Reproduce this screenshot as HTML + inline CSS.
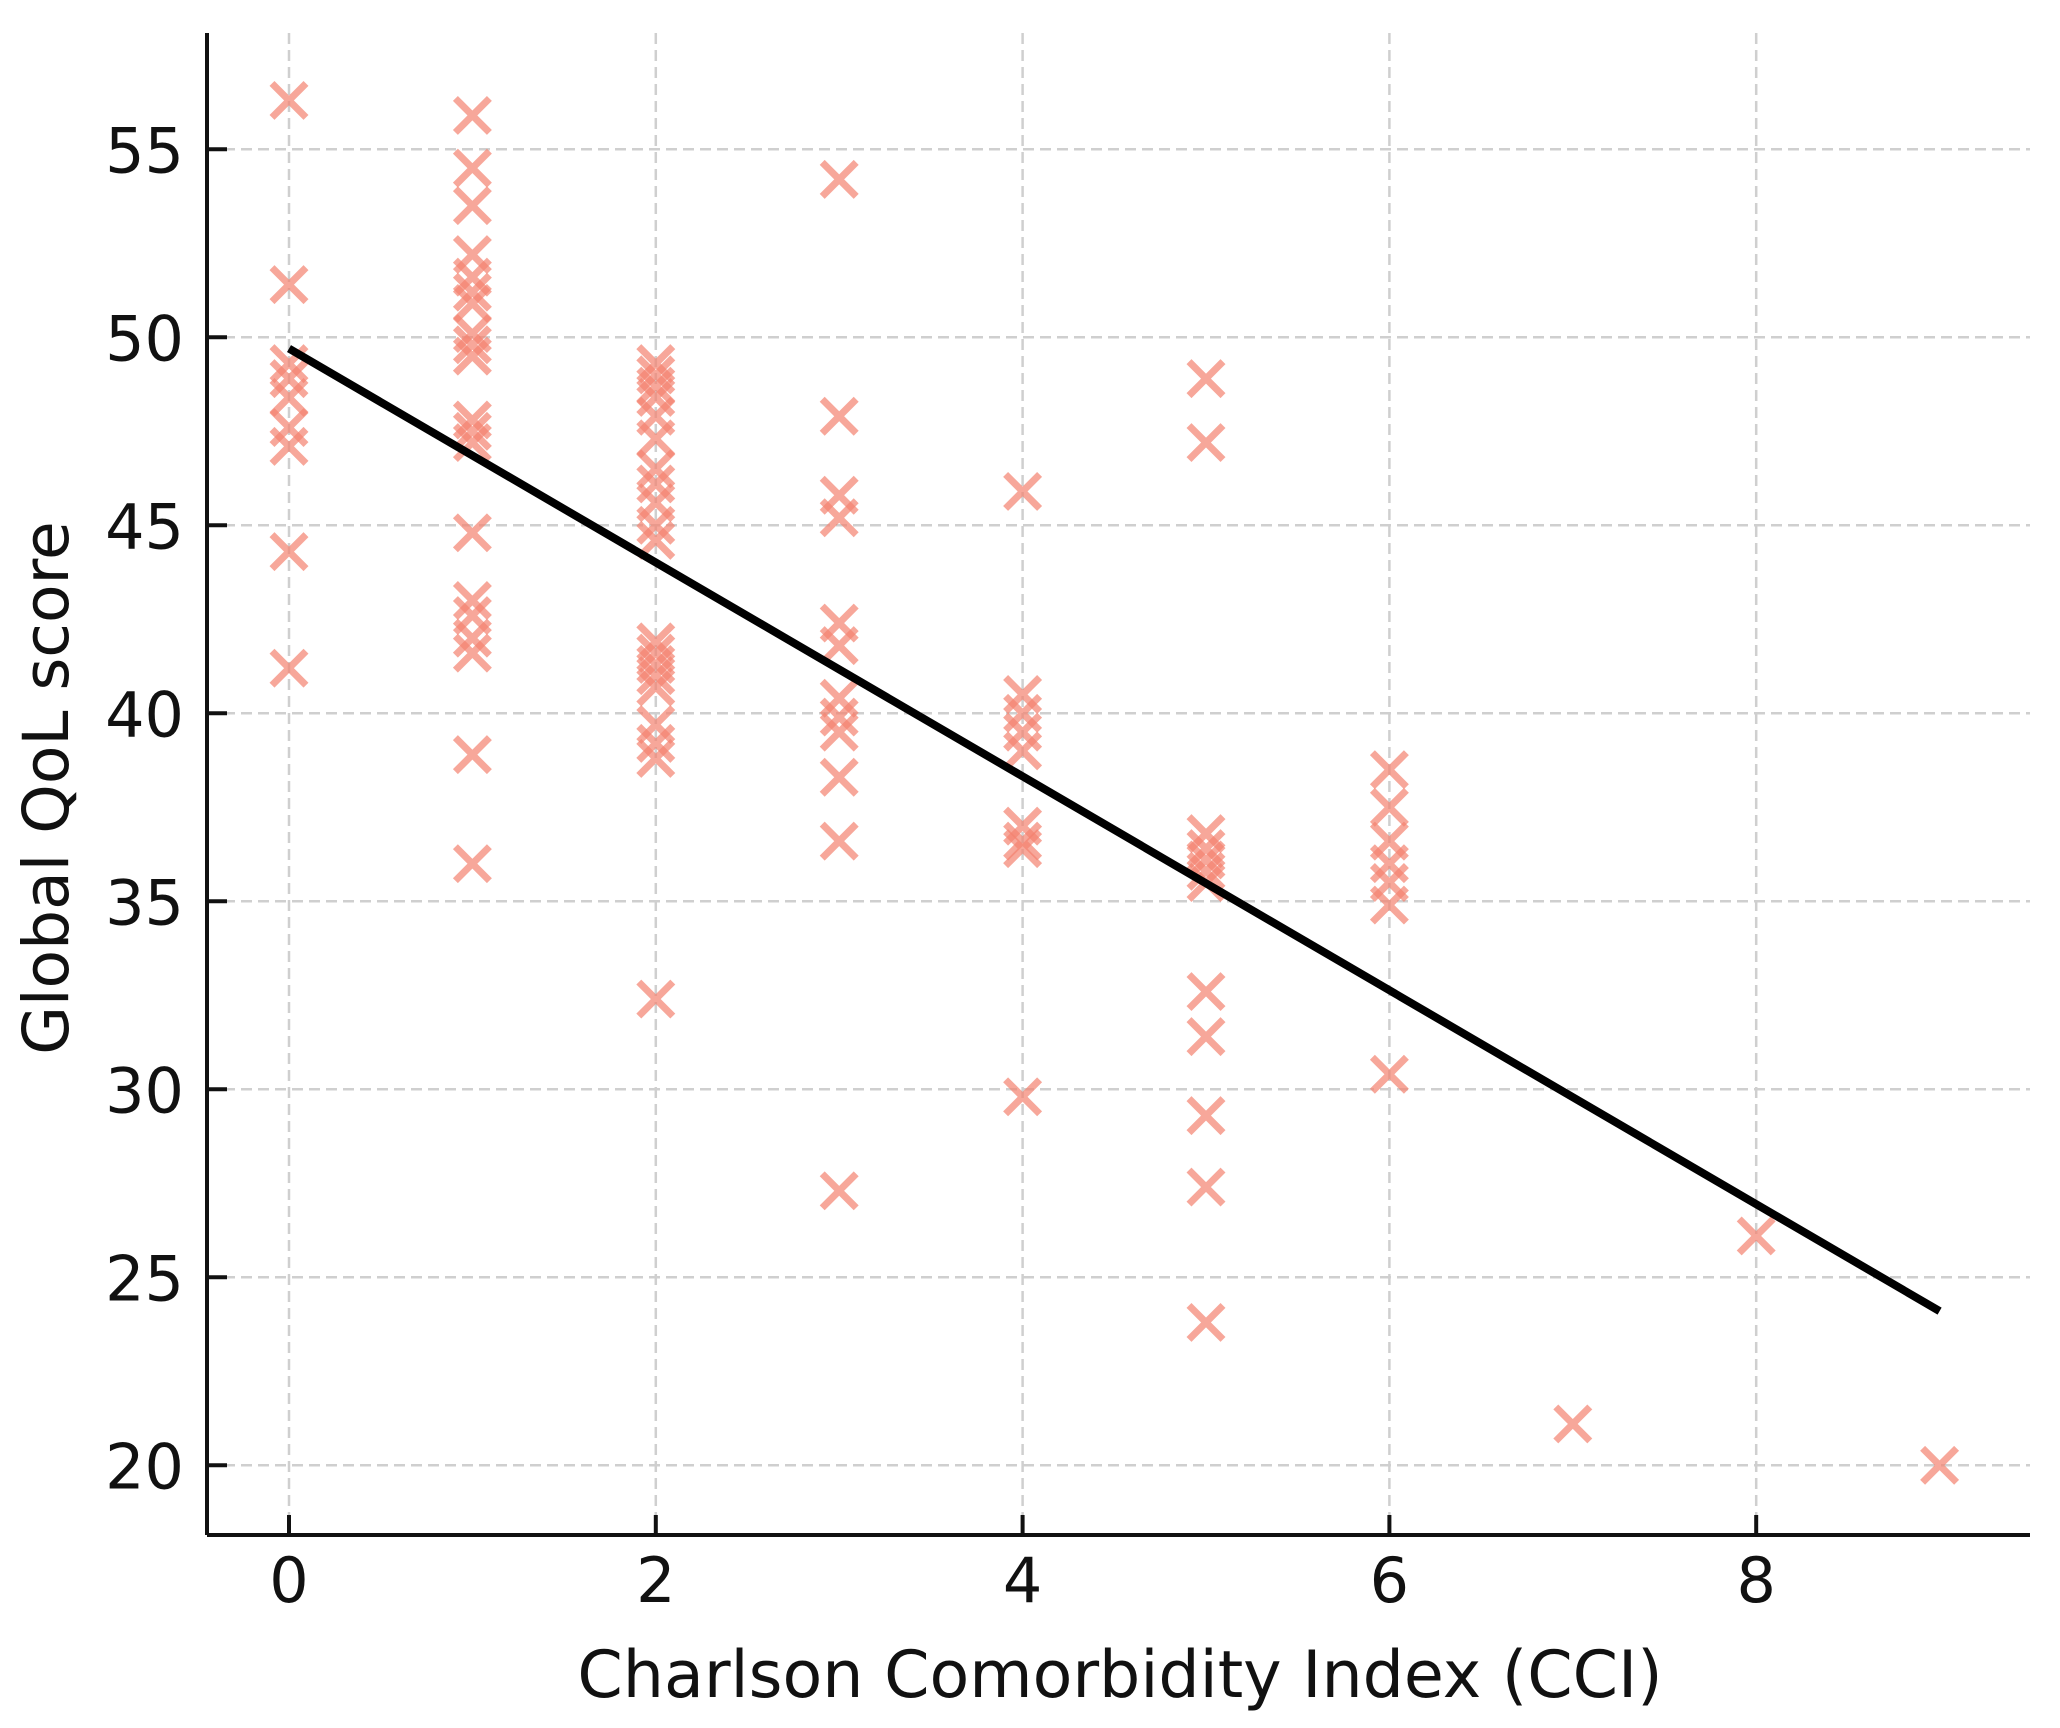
<!DOCTYPE html>
<html><head><meta charset="utf-8"><style>
html,body{margin:0;padding:0;background:#fff;}
svg{display:block;font-family:"DejaVu Sans","Liberation Sans",sans-serif;}
</style></head><body>
<svg id="chart" width="2060" height="1728" xmlns="http://www.w3.org/2000/svg">
<g id="grid"></g>
<g id="points"></g>
<g id="fit"></g>
<g id="axes"></g>
<text x="1120" y="1697" font-size="65" text-anchor="middle" fill="#111">Charlson Comorbidity Index (CCI)</text>
<text transform="translate(68,788) rotate(-90)" font-size="63" text-anchor="middle" fill="#111">Global QoL score</text>
</svg>
<script>
const cciValues=[0,0,0,0,0,0,0,0,0,
1,1,1,1,1,1,1,1,1,1,1,1,1,1,1,1,1,1,1,1,
2,2,2,2,2,2,2,2,2,2,2,2,2,2,2,2,2,2,2,2,
3,3,3,3,3,3,3,3,3,3,3,3,
4,4,4,4,4,4,4,4,4,
5,5,5,5,5,5,5,5,5,5,5,5,
6,6,6,6,6,6,6,
7,8,9];
const qolValues=[56.3,51.4,49.3,48.9,48.4,47.6,47.1,44.3,41.2,
55.9,54.5,53.5,52.2,51.6,51.2,50.9,50.1,49.8,49.5,47.8,47.5,47.2,44.8,43.0,42.6,42.0,41.6,38.9,36.0,
49.3,49.0,48.7,48.4,47.9,47.3,46.5,46.1,45.6,45.0,44.6,41.9,41.6,41.3,41.0,40.7,39.7,39.2,38.8,32.4,
54.2,47.9,45.8,45.2,42.4,41.8,40.4,39.9,39.5,38.3,36.6,27.3,
45.9,40.5,40.0,39.5,39.0,37.0,36.6,36.4,29.8,
48.9,47.2,36.8,36.4,36.1,35.8,35.5,32.6,31.4,29.3,27.4,23.8,
38.5,37.5,36.6,36.0,35.5,34.9,30.4,
21.1,26.1,20.0];
const fitX=[0,9];
const fitY=[49.7,24.1];
const xTicks=[0,2,4,6,8];
const yTicks=[20,25,30,35,40,45,50,55];

const NS="http://www.w3.org/2000/svg";
const L=207,R=2030,T=33,B=1535;
function xs(v){return 289+v*183.4;}
function ys(v){return 337.3-(v-50)*37.6;}
function mk(tag,attrs,parent){const e=document.createElementNS(NS,tag);for(const k in attrs)e.setAttribute(k,attrs[k]);parent.appendChild(e);return e;}
const grid=document.getElementById('grid'),axes=document.getElementById('axes'),pts=document.getElementById('points'),fit=document.getElementById('fit');
xTicks.forEach(t=>{
 const g=mk('line',{x1:xs(t),x2:xs(t),y1:T,y2:B,stroke:'#cfcfcf','stroke-width':2.5,'stroke-dasharray':'11 6'},grid);
 
 
 const tk=mk('line',{x1:xs(t),x2:xs(t),y1:B,y2:B-20,stroke:'#111','stroke-width':4},axes);
 
 
 const lb=mk('text',{x:xs(t),y:1602,'font-size':62,'text-anchor':'middle',fill:'#111'},axes);
 lb.textContent=t;
 
 
});
yTicks.forEach(t=>{
 const g=mk('line',{x1:L,x2:R,y1:ys(t),y2:ys(t),stroke:'#cfcfcf','stroke-width':2.5,'stroke-dasharray':'11 6'},grid);
 
 
 const tk=mk('line',{x1:L,x2:L+20,y1:ys(t),y2:ys(t),stroke:'#111','stroke-width':4},axes);
 
 
 const lb=mk('text',{x:184,y:ys(t)+23,'font-size':62,'text-anchor':'end',fill:'#111'},axes);
 lb.textContent=t;
 
 
});
const sx=mk('line',{x1:L,x2:R,y1:B,y2:B,stroke:'#111','stroke-width':4},axes);


const sy=mk('line',{x1:L,x2:L,y1:T,y2:B,stroke:'#111','stroke-width':4},axes);


const h=17;
cciValues.forEach((c,i)=>{
 const x=xs(c),y=ys(qolValues[i]);
 const p=mk('path',{d:`M${x-h},${y-h}L${x+h},${y+h}M${x-h},${y+h}L${x+h},${y-h}`,stroke:'#f4826f','stroke-width':7,'stroke-opacity':0.7,fill:'none'},pts);
 
 
});
const fl=mk('line',{x1:xs(fitX[0]),y1:ys(fitY[0]),x2:xs(fitX[1]),y2:ys(fitY[1]),stroke:'#000','stroke-width':8},fit);


</script>
</body></html>
